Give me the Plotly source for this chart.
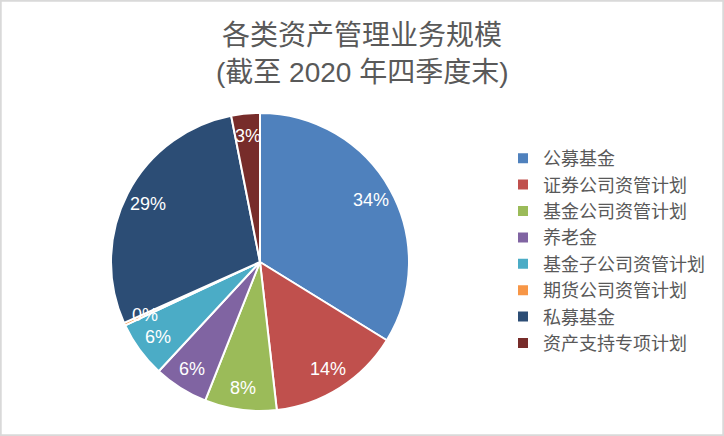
import math
import plotly.graph_objects as go

labels = ["公募基金", "证券公司资管计划", "基金公司资管计划", "养老金",
          "基金子公司资管计划", "期货公司资管计划", "私募基金", "资产支持专项计划"]
values = [33.8, 14.4, 7.8, 5.9, 6.1, 0.3, 28.6, 3.1]
colors = ["#4F81BD", "#C0504D", "#9BBB59", "#8064A2",
          "#4BACC6", "#F79646", "#2C4D75", "#772C2A"]
title_line1 = "各类资产管理业务规模"
title_line2 = "(截至 2020 年四季度末)"

W, H = 724, 436
cx, cy, r = 260, 262, 149
label_frac = 0.85
dom = dict(x=[(cx - r) / W, (cx + r) / W], y=[(H - cy - r) / H, (H - cy + r) / H])

fig = go.Figure()
fig.add_trace(go.Pie(
    labels=labels, values=values, sort=False, direction="clockwise", rotation=0,
    marker=dict(colors=colors, line=dict(color="white", width=2)),
    textinfo="none",
    hoverinfo="label+percent",
    domain=dom,
))

# percentage labels placed at each slice's mid-angle (derived from the values)
total = sum(values)
annotations = []
cum = 0.0
for v in values:
    mid = (cum + v / 2) / total
    cum += v
    th = 2 * math.pi * mid
    px = cx + label_frac * r * math.sin(th)
    py = cy - label_frac * r * math.cos(th)
    annotations.append(dict(
        x=px / W, y=(H - py) / H, xref="paper", yref="paper", showarrow=False,
        text=f"{round(v / total * 100)}%", xanchor="center", yanchor="middle",
        font=dict(color="white", size=18, family="Liberation Sans, Arial")))

annotations.append(dict(
    x=0.5, y=(H - 72) / H, xref="paper", yref="paper", showarrow=False,
    text=title_line2, xanchor="center", yanchor="middle",
    font=dict(size=28, color="#595959", family="Liberation Sans, Noto Sans CJK SC")))

fig.update_layout(
    width=W, height=H,
    margin=dict(l=0, r=0, t=0, b=0),
    paper_bgcolor="white",
    font=dict(family="Noto Sans CJK SC, Liberation Sans", color="#595959"),
    title=dict(text=title_line1, x=0.5, xanchor="center", y=1 - 35 / H, yanchor="middle",
               font=dict(size=28, color="#595959", family="Liberation Sans, Noto Sans CJK SC")),
    legend=dict(x=503 / W, y=(H - 140) / H, xanchor="left", yanchor="top",
                font=dict(size=18, color="#595959", family="Noto Sans CJK SC"), itemwidth=30,
                tracegroupgap=0),
    annotations=annotations,
    shapes=[dict(type="rect", xref="paper", yref="paper", x0=0.001, x1=0.999, y0=0.002, y1=0.998,
                 line=dict(color="#D9D9D9", width=2))],
)

fig.write_html("out.html", config={"displayModeBar": False},
               post_script="document.body.style.margin='0';document.body.style.overflow='hidden';")
